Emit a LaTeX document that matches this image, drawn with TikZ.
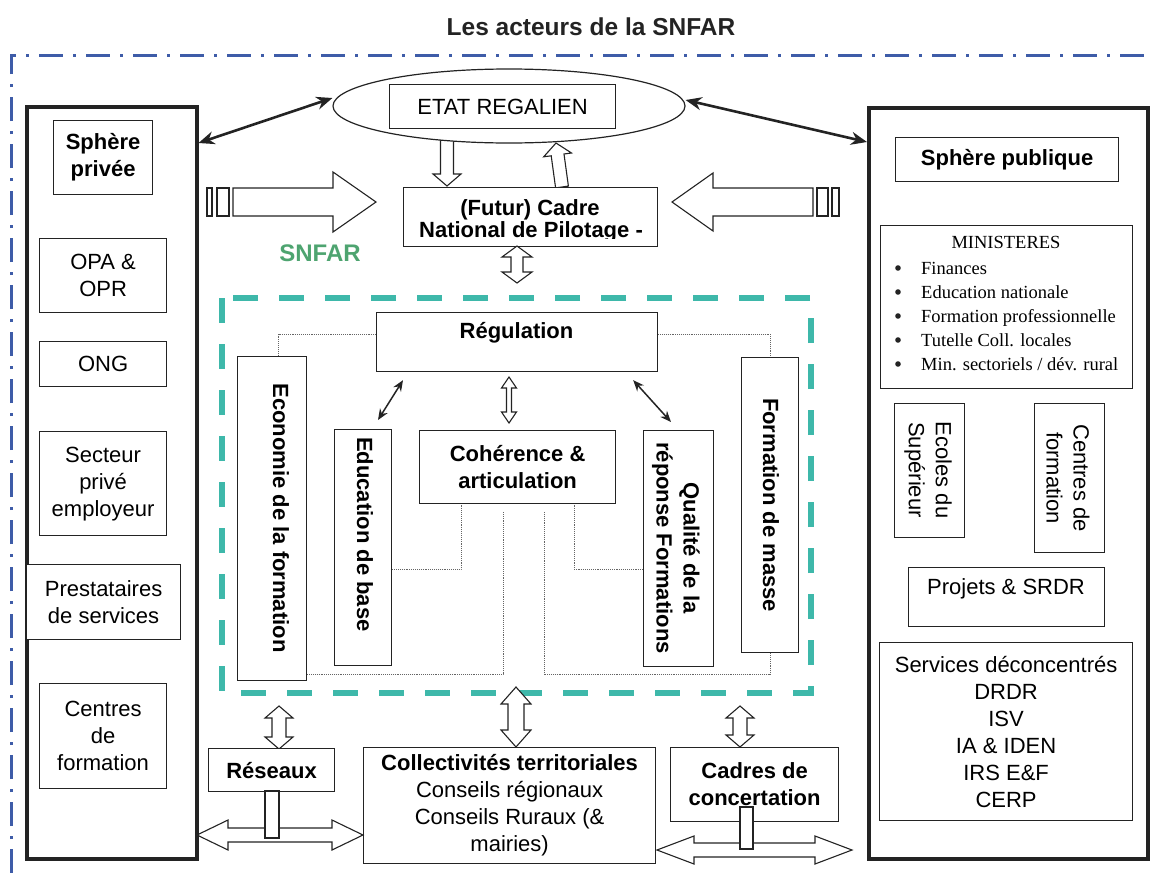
\documentclass[tikz,border=0pt]{standalone}
\usepackage{fontspec}
\setmainfont{Liberation Sans}
\newfontfamily\serifff{Liberation Serif}
\usetikzlibrary{arrows.meta,shapes.geometric}
\definecolor{frameblue}{RGB}{62,92,168}
\definecolor{snfgreen}{RGB}{78,164,112}
\definecolor{dashteal}{RGB}{62,184,170}
\definecolor{ink}{RGB}{35,35,35}
\newcommand\fs{\fontsize{22}{27}\selectfont}
\newcommand\fsm{\fontsize{18.5}{22}\selectfont\serifff}
\tikzset{
 bx/.style={draw=ink, line width=1.2pt, fill=white, inner sep=0pt, anchor=north west, align=center, font=\fs},
 col/.style={line width=3.5pt, draw=ink},
 txt/.style={inner sep=0pt, align=center, font=\fs},
 rot/.style={rotate=-90, inner sep=0pt, align=center, font=\fs},
 harrow/.style={draw=ink, line width=1.1pt, fill=white, line join=miter},
 blk/.style={draw=ink, line width=2.6pt, {Stealth[length=16pt,width=13pt]}-{Stealth[length=16pt,width=13pt]}},
 sblk/.style={draw=ink, line width=1.5pt, {Stealth[length=11pt,width=9pt]}-{Stealth[length=11pt,width=9pt]}},
 dots/.style={draw=ink!70, line width=0.9pt, densely dotted},
 mtxt/.style={inner sep=0pt, anchor=base west, font=\fsm},
}
\newcommand\mkbox[7][]{\node[bx,minimum width={(#5-#3)*1pt},minimum height={(#6-#4)*1pt},#1] (#2) at (#3,#4) {#7};}
\newcommand\vdarrow[6]{%
 \draw[harrow] (#1,#2) -- ({#1+#5},{#2+#6}) -- ({#1+#4},{#2+#6}) -- ({#1+#4},{#3-#6}) -- ({#1+#5},{#3-#6}) -- (#1,#3) -- ({#1-#5},{#3-#6}) -- ({#1-#4},{#3-#6}) -- ({#1-#4},{#2+#6}) -- ({#1-#5},{#2+#6}) -- cycle;}
\newcommand\hdarrow[6]{%
 \draw[harrow] (#2,#1) -- ({#2+#6},{#1-#5}) -- ({#2+#6},{#1-#4}) -- ({#3-#6},{#1-#4}) -- ({#3-#6},{#1-#5}) -- (#3,#1) -- ({#3-#6},{#1+#5}) -- ({#3-#6},{#1+#4}) -- ({#2+#6},{#1+#4}) -- ({#2+#6},{#1+#5}) -- cycle;}
\begin{document}
\begin{tikzpicture}[x=1pt,y=-1pt]
\useasboundingbox (0,0) rectangle (1152,873);
\node[inner sep=0pt, font=\fontsize{24.5}{28}\selectfont\bfseries, text=ink] (title) at (591,27) {Les acteurs de la SNFAR};
% outer frame
\draw[frameblue, line width=3pt, dash pattern=on 24pt off 10pt on 3pt off 10pt] (11,873) -- (11,55) -- (1152,55);
% columns
\mkbox[col]{leftcol}{25}{105}{195}{857}{}
\mkbox[col]{rightcol}{867}{106}{1146}{857}{}
% left column
\mkbox[font=\fs\bfseries]{spriv}{53}{120}{152}{194}{Sphère\\privée}
\mkbox{opa}{39}{238}{166}{312}{OPA \&\\OPR}
\mkbox{ong}{39}{341}{166}{386}{ONG}
\mkbox{sect}{39}{431}{166}{535}{Secteur\\privé\\employeur}
\mkbox{prest}{26}{564}{180}{639}{Prestataires\\de services}
\mkbox{centl}{39}{683}{166}{788}{Centres\\de\\formation}
% arrows ETAT <-> Cadre
\draw[harrow] (440.5,136) -- (453.5,136) -- (453.5,174) -- (461,174) -- (447,186) -- (433,174) -- (440.5,174) -- cycle;
\draw[harrow] (555.6,187.9) -- (568.4,186.1) -- (564.0,154.0) -- (571.5,153.0) -- (556,143) -- (543.7,156.8) -- (551.2,155.8) -- cycle;
% ellipse
\node[draw=ink, line width=1.2pt, fill=white, ellipse, minimum width=352pt, minimum height=74pt, inner sep=0pt] (ell) at (509,106) {};
\mkbox{etat}{389}{84}{615}{128}{ETAT REGALIEN}
% Cadre
\mkbox{cadre}{403}{187}{657}{246}{}
\begin{scope}
\clip (403,187) rectangle (657,238);
\node[inner sep=0pt, anchor=base, font=\fs\bfseries] (cadre1) at (530,215) {(Futur) Cadre};
\node[inner sep=0pt, anchor=base, font=\fs\bfseries] (cadre2) at (531,237) {National de Pilotage -};
\end{scope}
% big side arrows
\draw[harrow] (233,188) -- (333,188) -- (333,172) -- (376,202) -- (333,232) -- (333,216) -- (233,216) -- cycle;
\draw[harrow] (207,188) rectangle (212,216);
\draw[harrow] (217,188) rectangle (229,216);
\draw[harrow] (813,188) -- (713,188) -- (713,173) -- (672,202) -- (713,231) -- (713,216) -- (813,216) -- cycle;
\draw[harrow] (817,188) rectangle (828,216);
\draw[harrow] (832,188) rectangle (839,216);
% black arrows
\draw[blk] ([yshift=8pt]ell.west) -- ([yshift=-38pt]leftcol.north east);
\draw[blk] ([yshift=6pt]ell.east) -- ([yshift=-36pt]rightcol.north west);
% SNFAR
\node[inner sep=0pt, font=\fontsize{24}{28}\selectfont\bfseries, text=snfgreen] (snf) at (320,253) {SNFAR};
\vdarrow{517}{246}{283}{6}{15}{11}
% green dashed frame
\draw[dashteal, line width=6.5pt, dash pattern=on 25pt off 21pt] (222,298) rectangle (811,693);
% inner boxes
\mkbox{reg}{376}{312}{657}{371}{}
\node[txt, font=\fs\bfseries] (regt) at (516.5,333) {Régulation};
\mkbox{eco}{237}{356}{306}{680}{}
\node[rot, font=\fs\bfseries] (ecot) at (281,518) {Economie de la formation};
\mkbox{edu}{334}{429}{391}{665}{}
\node[rot, font=\fs\bfseries, anchor=west] (edut) at (365,437) {Education de base};
\mkbox[font=\fs\bfseries]{coh}{419}{430}{615}{503}{Cohérence \&\\articulation}
\mkbox{qual}{643}{430}{713}{666}{}
\node[rot, font=\fs\bfseries] (qualt) at (676,548) {Qualité de la\\réponse Formations};
\mkbox{masse}{741}{357}{798}{652}{}
\node[rot, font=\fs\bfseries] (masset) at (771,505) {Formation de masse};
% inner connectors
\vdarrow{509}{377}{423}{2.5}{7.5}{11}
\draw[sblk] ([xshift=27pt,yshift=-8pt]reg.south west) -- ([xshift=44pt,yshift=9pt]edu.north west);
\draw[sblk] ([xshift=-25pt,yshift=-8pt]reg.south east) -- ([xshift=28pt,yshift=8pt]qual.north west);
\coordinate (cl) at (503,512);
\coordinate (cr) at (544,512);
\draw[dots] ([yshift=8pt]reg.west) -| ([xshift=6.5pt]eco.north);
\draw[dots] ([yshift=8pt]reg.east) -| (masse.north);
\draw[dots] ([yshift=-22pt]edu.east) -| ([xshift=42pt]coh.south west);
\draw[dots] ([yshift=-21pt]qual.west) -| ([xshift=-42pt]coh.south east);
\draw[dots] ([yshift=7pt]eco.south east) -| (cl);
\draw[dots] (cr) |- ([yshift=-21pt]masse.south) -- (masse.south);
% right column
\mkbox[font=\fs\bfseries]{spub}{895}{137}{1118}{181}{Sphère publique}
\mkbox{mins}{880}{225}{1132}{388}{}
\node[inner sep=0pt, anchor=base, font=\fsm] (minst) at (1006,248) {MINISTERES};
\node[mtxt] (m1) at (921,274) {Finances};
\node[mtxt] (m2) at (921,298) {Education nationale};
\node[mtxt] (m3) at (921,322) {Formation professionnelle};
\node[mtxt] (m4) at (921,346) {Tutelle Coll. locales};
\node[mtxt] (m5) at (921,370) {Min. sectoriels / dév. rural};
\foreach \yy in {274,298,322,346,370} { \fill[ink] (898,\yy-6) circle (2.8pt); }
\mkbox{ecol}{894}{403}{964}{537}{}
\node[rot] (ecolt) at (928,470) {Ecoles du\\Supérieur};
\mkbox{centr}{1034}{403}{1104}{552}{}
\node[rot] (centrt) at (1068,478) {Centres de\\formation};
\mkbox{proj}{908}{567}{1104}{626}{}
\node[txt] (projt) at (1006,589) {Projets \& SRDR};
\mkbox{serv}{879}{642}{1132}{820}{Services déconcentrés\\DRDR\\ISV\\IA \& IDEN\\IRS E\&F\\CERP}
% bottom
\vdarrow{279}{706}{749}{7}{14}{12}
\vdarrow{516}{687}{747}{8}{15}{17}
\vdarrow{740}{706}{747}{7}{14}{12}
\mkbox[font=\fs\bfseries]{res}{208}{748}{334}{791}{Réseaux}
\mkbox{coll}{363}{747}{655}{863}{\textbf{Collectivités territoriales}\\Conseils régionaux\\Conseils Ruraux (\&\\mairies)}
\mkbox[font=\fs\bfseries]{cadc}{670}{747}{838}{821}{Cadres de\\concertation}
\hdarrow{835}{197}{363}{7}{15}{31}
\draw[harrow] (265,791) rectangle (279,838);
\hdarrow{850}{657}{852}{7}{14}{37}
\draw[harrow] (740,807) rectangle (753,849);
\end{tikzpicture}
\end{document}
